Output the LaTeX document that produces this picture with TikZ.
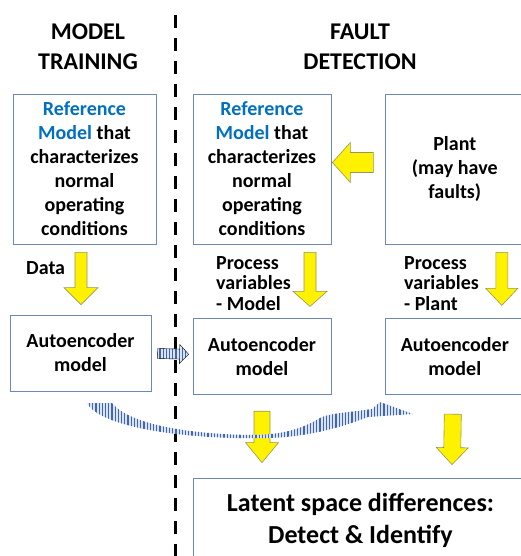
\documentclass[tikz,border=0pt]{standalone}
\usepackage{fontspec}
\setmainfont{Carlito}
\usetikzlibrary{positioning,calc,patterns.meta}

\definecolor{refblue}{RGB}{0,112,192}
\definecolor{boxline}{RGB}{110,135,185}
\definecolor{arrowedge}{RGB}{150,150,90}
\definecolor{hatchfill}{RGB}{215,228,248}
\definecolor{hatchline}{RGB}{70,100,170}

\tikzset{
    bshaft/.store in=\bshaft, bhead/.store in=\bhead, blen/.store in=\blen,
    bshaft=6, bhead=17, blen=17,
    blockarrow/.style={to path={
        let \p1=(\tikztostart), \p2=(\tikztotarget),
            \n1={atan2(\y2-\y1,\x2-\x1)}, \n2={veclen(\x2-\x1,\y2-\y1)} in
        {[shift={(\p1)}, rotate=\n1]
            (0,-\bshaft) -- (\n2-\blen,-\bshaft) -- (\n2-\blen,-\bhead) -- (\n2,0)
            -- (\n2-\blen,\bhead) -- (\n2-\blen,\bshaft) -- (0,\bshaft) -- cycle}
    }},
}

\begin{document}
\begin{tikzpicture}[x=1pt, y=-1pt,
    box/.style={rectangle, draw=boxline, line width=0.8pt, align=center, font=\fontsize{20}{24}\selectfont\bfseries},
    title/.style={align=center, font=\fontsize{24}{30}\selectfont\bfseries},
    lbl/.style={align=left, inner sep=0pt, font=\fontsize{20}{20.5}\selectfont\bfseries},
    yarrow/.style={blockarrow, fill=yellow, draw=arrowedge, line width=0.6pt},
    hatchpaint/.style={preaction={fill=hatchfill}, pattern={Lines[angle=90,distance=3.2pt,line width=1.2pt]}, pattern color=hatchline},
    hatch/.style={blockarrow, hatchpaint},
    sepline/.style={line width=3pt, dash pattern=on 13pt off 10pt}
]
    \useasboundingbox (0,0) rectangle (521,556);

    % column headings and divider
    \node [title] (train) at (88,47) {MODEL\\TRAINING};
    \node [title] (fault) at (360,47) {FAULT\\DETECTION};
    \draw [sepline] (175,15) -- (175,560);

    % model training column
    \node [box, minimum width=143pt, minimum height=150pt] (ref1) at (84.5,169)
        {{\color{refblue}Reference}\\{\color{refblue}Model} that\\characterizes\\normal\\operating\\conditions};
    \node [box, minimum width=141pt, minimum height=76pt] (ae1) at (80.5,353) {Autoencoder\\model};

    % fault detection column
    \node [box, minimum width=138pt, minimum height=150pt] (ref2) at (262,169)
        {{\color{refblue}Reference}\\{\color{refblue}Model} that\\characterizes\\normal\\operating\\conditions};
    \node [box, minimum width=138pt, minimum height=150pt, right=54pt of ref2] (plant) {Plant\\(may have\\faults)};
    \node [box, minimum width=138pt, minimum height=76pt, below=74pt of ref2] (ae2) {Autoencoder\\model};
    \node [box, minimum width=138pt, minimum height=76pt, below=74pt of plant] (ae3) {Autoencoder\\model};
    \node [box, minimum width=335pt, minimum height=84pt, font=\fontsize{26}{32}\selectfont\bfseries] (latent) at (360.5,520)
        {Latent space differences:\\Detect \& Identify};

    % arrow labels
    \node [lbl, anchor=base west] (data) at (26,274) {Data};
    \node [lbl, anchor=north west] (pvmodel) at (216,256) {Process\\variables\\- Model};
    \node [lbl, anchor=north west] (pvplant) at (404,256) {Process\\variables\\- Plant};

    % yellow block arrows
    \draw [yarrow] ($(plant.west)+(-12,-6.5)$) to [bshaft=10, bhead=20, blen=18] ($(ref2.east)+(1,-6.5)$);
    \draw [yarrow] ($(ref1.south)+(-3.5,8)$) to ($(ae1.north)+(0.5,-10)$);
    \draw [yarrow] ($(ref2.south)+(48,8)$) to [blen=15] ($(ae2.north)+(48,-12)$);
    \draw [yarrow] ($(plant.south)+(47,8)$) to [bhead=16] ($(ae3.north)+(47,-13)$);
    \draw [yarrow] ($(ae2.south)+(0,16)$) to [bshaft=8, bhead=16.5, blen=20] ($(latent.north)+(-98.5,-15)$);
    \draw [yarrow] ($(ae3.south)+(-2,19)$) to [bshaft=8.5, bhead=16, blen=17] ($(latent.north)+(91.5,-13)$);

    % hatched arrows: trained autoencoder reused
    \draw [hatch, bshaft=5, bhead=9.5, blen=9] ($(ae1.east)+(6,0.5)$) to ($(ae2.west)+(-4,-2.5)$);
    \path [hatchpaint] (87,403) .. controls (100,428) and (190,440) .. (268,438)
        .. controls (310,437) and (345,426) .. (368,417) -- (413,414) -- (380,402) -- (372,409)
        .. controls (345,413) and (330,413) .. (320,418)
        .. controls (300,430) and (280,435) .. (250,435)
        .. controls (190,434) and (130,425) .. (112,403) -- cycle;

\end{tikzpicture}
\end{document}
